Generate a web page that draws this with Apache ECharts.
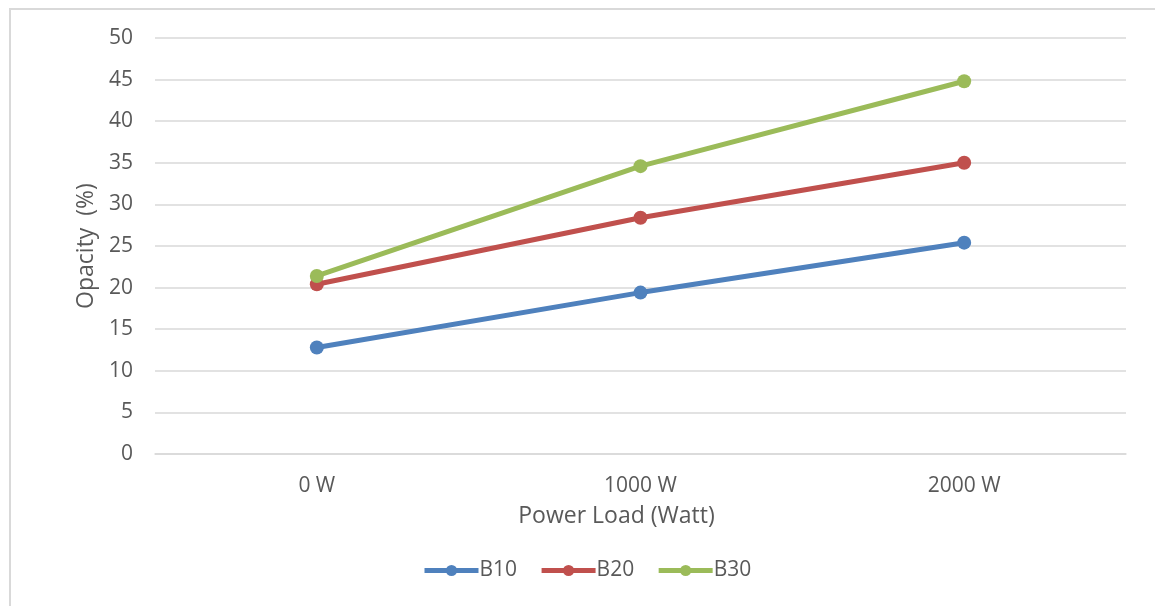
<!DOCTYPE html>
<html>
<head>
<meta charset="utf-8">
<script src="https://cdn.jsdelivr.net/npm/echarts@6/dist/echarts.min.js"></script>
<style>
html,body{margin:0;padding:0;background:#fff;}
#frame{position:absolute;left:9px;top:8px;width:1160px;height:620px;border-left:2px solid #d9d9d9;border-top:2px solid #d9d9d9;box-sizing:border-box;}
#chart{position:absolute;left:0;top:0;width:1155px;height:606px;}
</style>
</head>
<body>
<div id="frame"></div>
<div id="chart"></div>
<script>
const categories = ['0 W', '1000 W', '2000 W'];
const b10 = [12.8, 19.4, 25.4];
const b20 = [20.4, 28.4, 35.0];
const b30 = [21.4, 34.6, 44.8];
const seriesNames = ['B10', 'B20', 'B30'];
const colors = ['#4F81BD', '#C0504D', '#9BBB59'];
const FONT = 'Open Sans';
const txt = '#595959';

const chart = echarts.init(document.getElementById('chart'));
const mk = (name, data, color) => ({
  name, type: 'line', data,
  symbol: 'circle', symbolSize: 14,
  lineStyle: { width: 5, color },
  itemStyle: { color },
  animation: false
});
chart.setOption({
  animation: false,
  textStyle: { fontFamily: FONT },
  grid: { left: 155, right: 29, top: 38, bottom: 152 },
  legend: {
    data: seriesNames,
    bottom: 20, left: 417,
    itemWidth: 54, itemHeight: 14, itemGap: 22,
    lineStyle: { width: 5 },
    textStyle: { color: txt, fontSize: 21, fontFamily: FONT, padding: [0,0,0,-4] }
  },
  xAxis: {
    type: 'category', data: categories, boundaryGap: true,
    name: 'Power Load (Watt)', nameLocation: 'middle', nameGap: 51,
    nameTextStyle: { color: txt, fontSize: 23, fontFamily: FONT, padding: [0, 48, 0, 0] },
    axisLine: { lineStyle: { color: '#d9d9d9', width: 1.5 } },
    axisTick: { show: false },
    axisLabel: { color: txt, fontSize: 21, fontFamily: FONT, margin: 22 }
  },
  yAxis: {
    type: 'value', min: 0, max: 50, interval: 5,
    name: 'Opacity  (%)', nameLocation: 'middle', nameGap: 55, nameRotate: 90,
    nameTextStyle: { color: txt, fontSize: 23, fontFamily: FONT },
    axisLine: { show: false }, axisTick: { show: false },
    axisLabel: { color: txt, fontSize: 21, fontFamily: FONT, margin: 22 },
    splitLine: { lineStyle: { color: '#d9d9d9', width: 1.5 } }
  },
  series: [mk('B10', b10, colors[0]), mk('B20', b20, colors[1]), mk('B30', b30, colors[2])]
});
</script>
</body>
</html>
